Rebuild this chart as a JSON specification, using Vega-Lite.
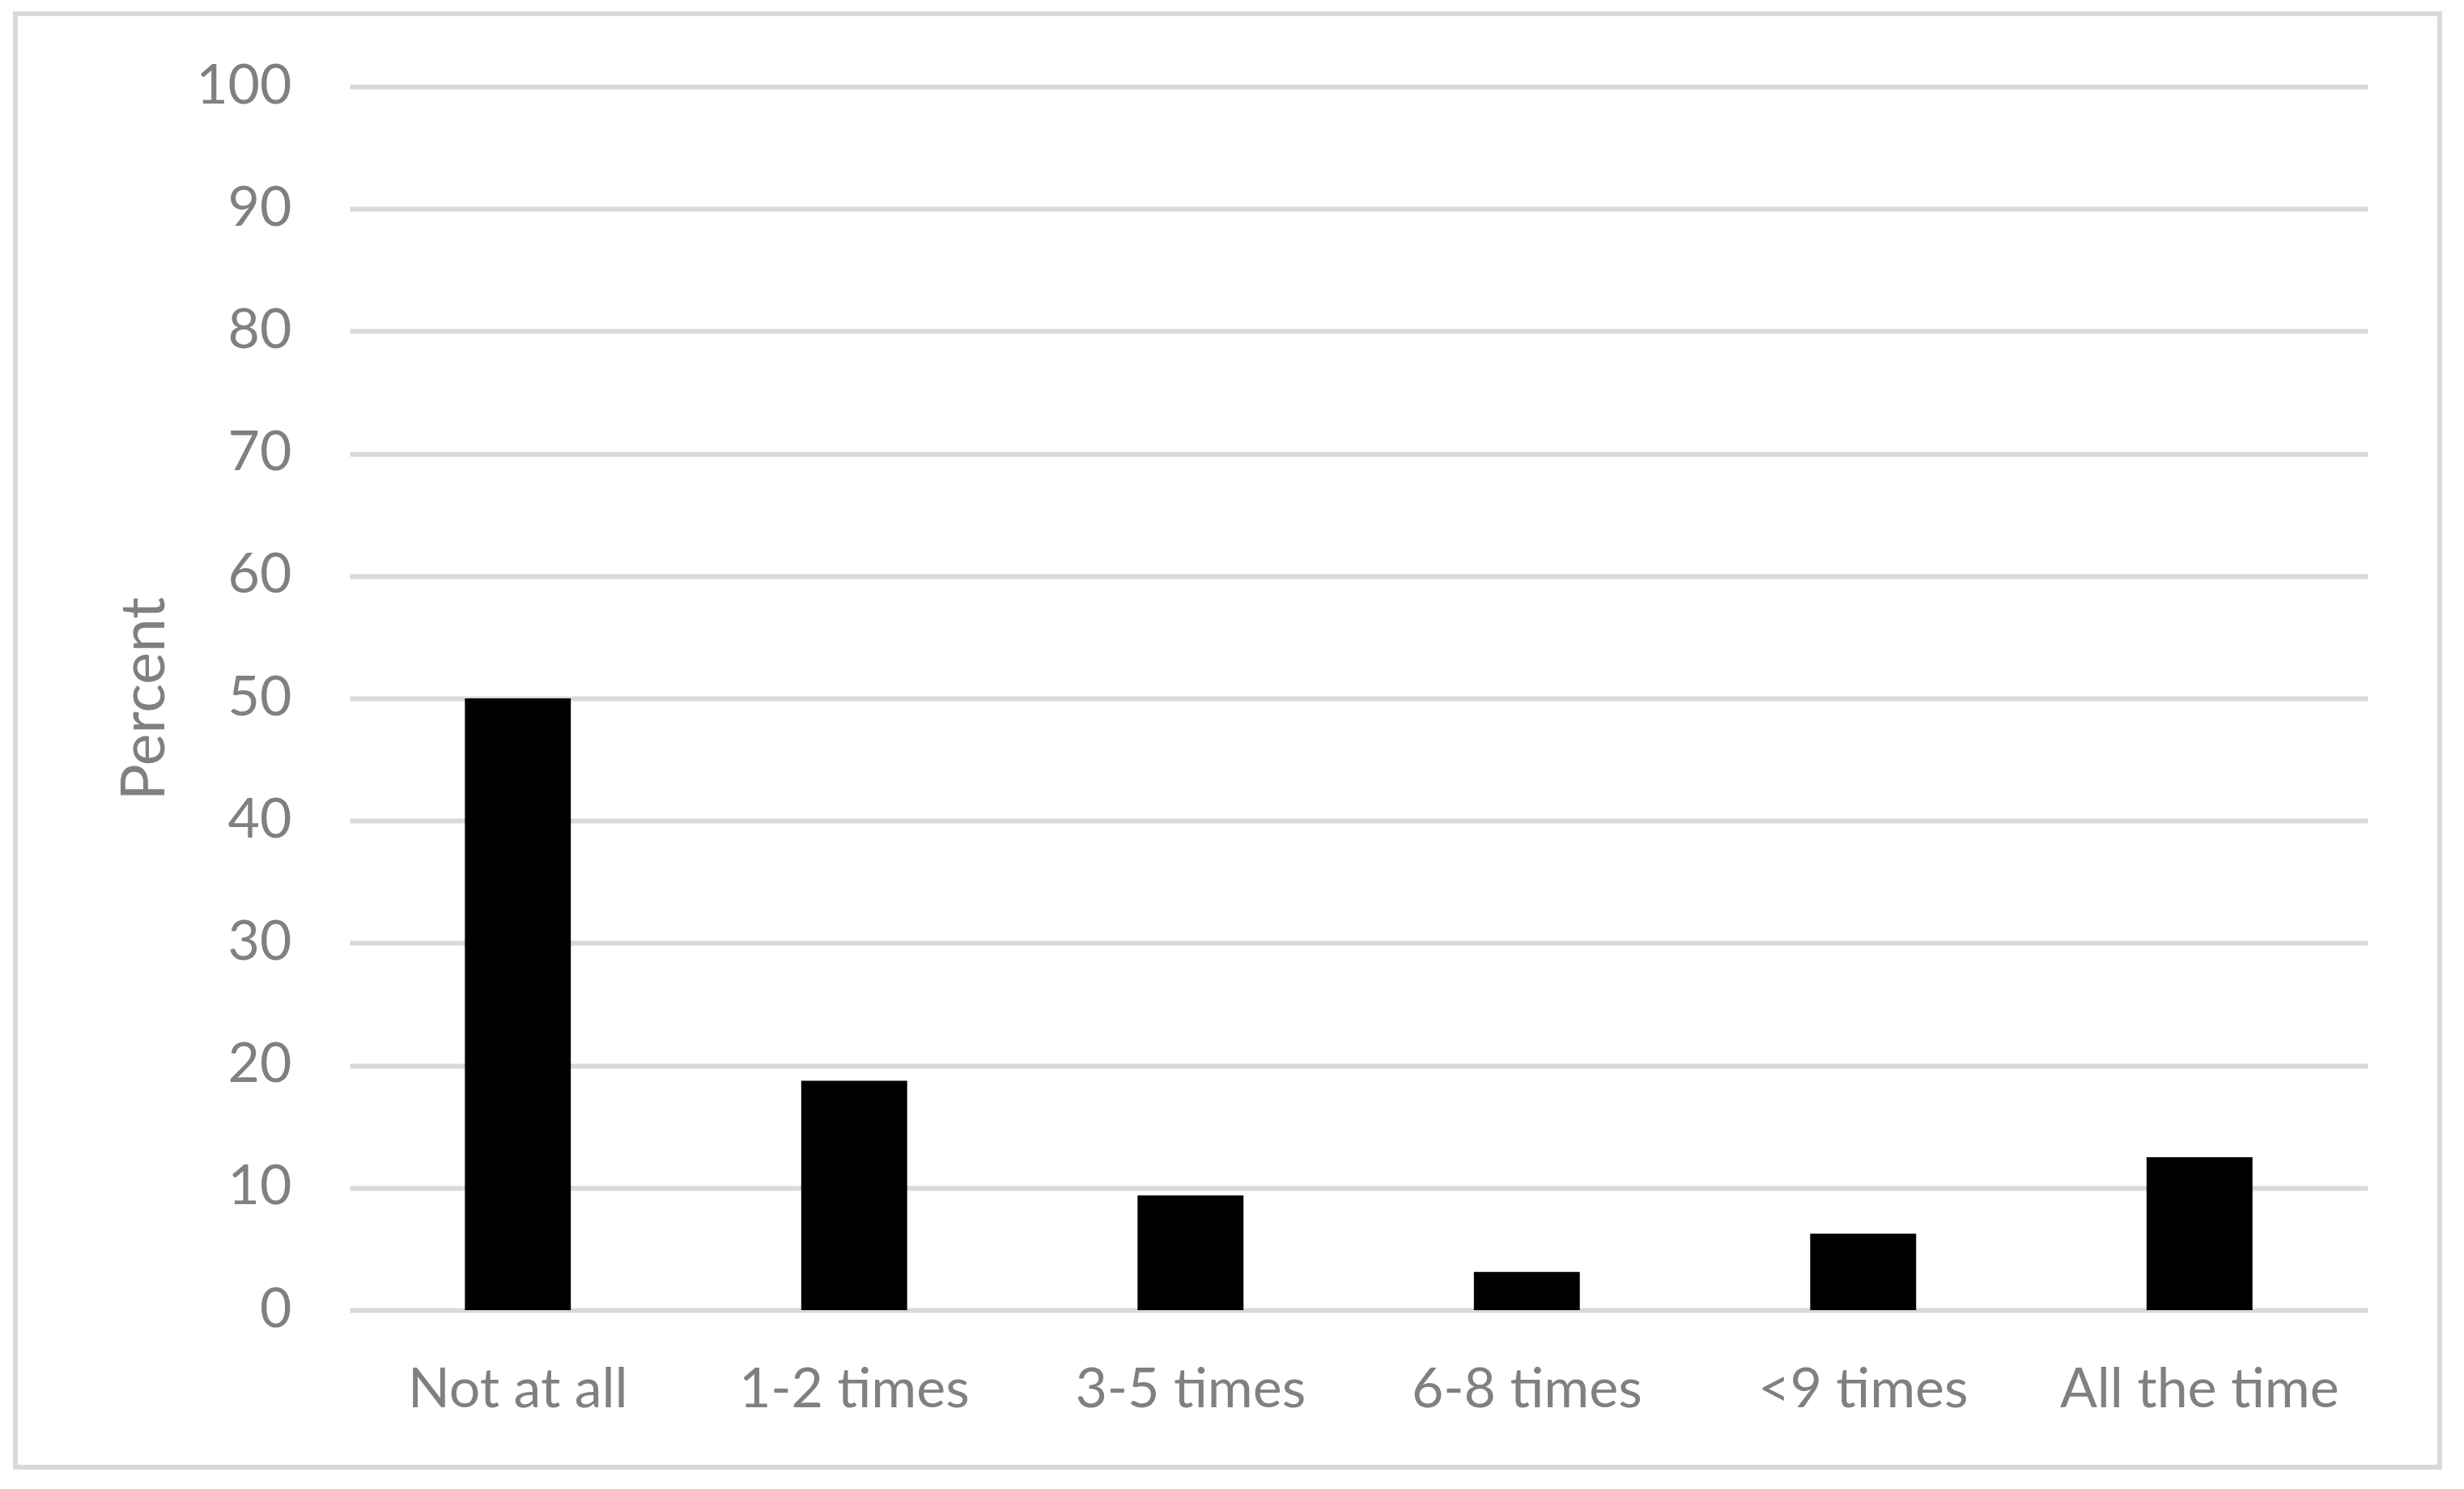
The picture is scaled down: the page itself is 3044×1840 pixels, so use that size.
{
  "$schema": "https://vega.github.io/schema/vega-lite/v6.json",
  "width": 2995,
  "height": 1796,
  "autosize": "none",
  "padding": {"left": 19, "top": 17, "right": 30, "bottom": 27},
  "background": "white",
  "config": {
    "view": {"stroke": "#d9d9d9", "strokeWidth": 6},
    "font": "Lato"
  },
  "data": {
    "values": [
      {"category": "Not at all", "percent": 50},
      {"category": "1-2 times", "percent": 18.75},
      {"category": "3-5 times", "percent": 9.375},
      {"category": "6-8 times", "percent": 3.125},
      {"category": "<9 times", "percent": 6.25},
      {"category": "All the time", "percent": 12.5}
    ]
  },
  "mark": {"type": "bar", "color": "#000000"},
  "encoding": {
    "x": {
      "field": "category",
      "type": "nominal",
      "sort": null,
      "scale": {"range": [413, 2906], "paddingInner": 0.685, "paddingOuter": 0.3425},
      "axis": {
        "title": null,
        "orient": "bottom",
        "offset": -194,
        "domain": false,
        "ticks": false,
        "tickSize": 0,
        "grid": false,
        "labelAngle": 0,
        "labelLimit": 0,
        "labelOverlap": false,
        "labelFont": "Lato",
        "labelFontSize": 68,
        "labelColor": "#808080",
        "labelPadding": 119,
        "labelBaseline": "alphabetic"
      }
    },
    "y": {
      "field": "percent",
      "type": "quantitative",
      "scale": {"domain": [0, 100], "nice": false, "range": [1602, 90]},
      "axis": {
        "title": "Percent",
        "orient": "left",
        "offset": -413,
        "values": [0, 10, 20, 30, 40, 50, 60, 70, 80, 90, 100],
        "domain": false,
        "ticks": false,
        "tickSize": 0,
        "grid": true,
        "gridColor": "#d9d9d9",
        "gridWidth": 6,
        "labelFont": "Lato",
        "labelFontSize": 68,
        "labelColor": "#808080",
        "labelPadding": 72,
        "labelBaseline": "middle",
        "titleFont": "Lato",
        "titleFontSize": 75,
        "titleFontWeight": "normal",
        "titleColor": "#808080",
        "titleAngle": -90,
        "titleAlign": "center",
        "titleBaseline": "alphabetic",
        "titleX": -230,
        "titleY": 846
      }
    }
  }
}
